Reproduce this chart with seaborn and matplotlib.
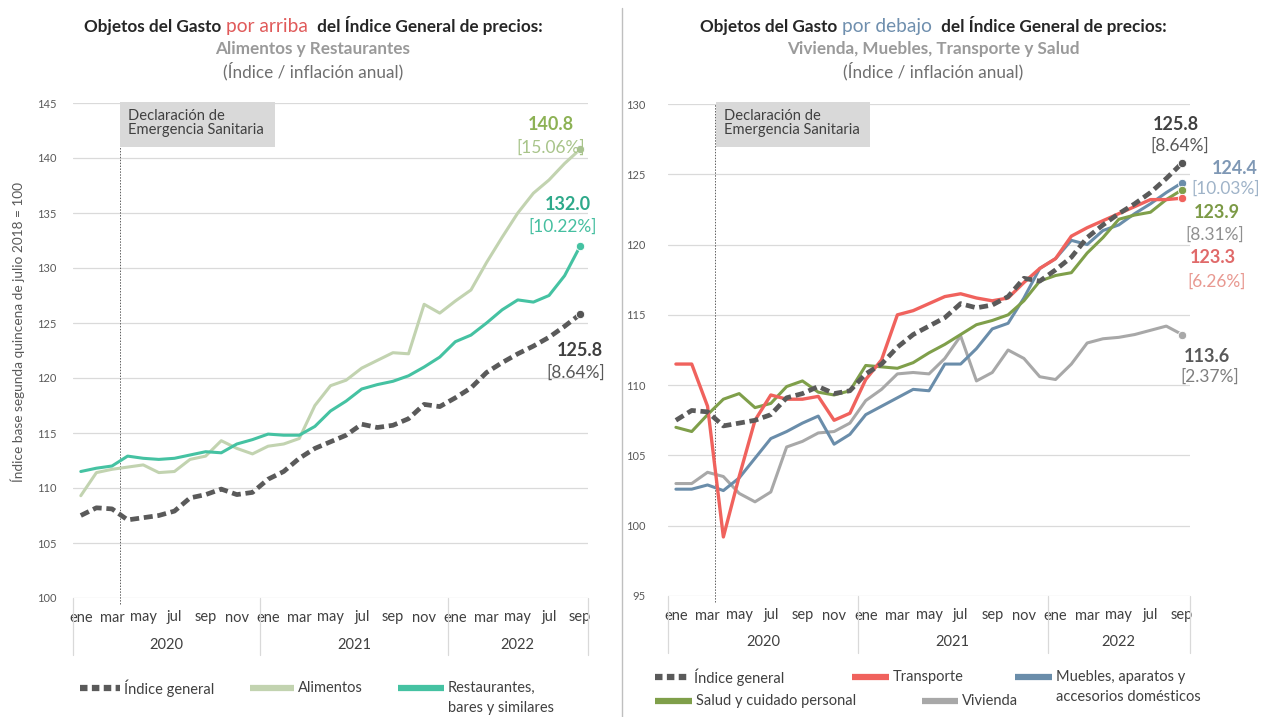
import numpy as np
import pandas as pd
import seaborn as sns
import matplotlib.pyplot as plt
import matplotlib.transforms as mtransforms
from matplotlib.lines import Line2D
from matplotlib.patches import Rectangle

# ---- data (monthly, ene 2020 .. sep 2022) ----
meses = ['ene', 'feb', 'mar', 'abr', 'may', 'jun', 'jul', 'ago', 'sep', 'oct', 'nov', 'dic']
anios = ['2020', '2021', '2022']

general = [107.5, 108.2, 108.1, 107.1, 107.3, 107.5, 107.9, 109.1, 109.4, 109.9, 109.4, 109.6,
           110.8, 111.5, 112.7, 113.6, 114.2, 114.8, 115.8, 115.5, 115.7, 116.3, 117.6, 117.4,
           118.2, 119.1, 120.5, 121.4, 122.2, 122.9, 123.7, 124.7, 125.8]
alimentos = [109.3, 111.4, 111.7, 111.9, 112.1, 111.4, 111.5, 112.6, 112.9, 114.3, 113.6, 113.1,
             113.8, 114.0, 114.5, 117.5, 119.3, 119.8, 120.9, 121.6, 122.3, 122.2, 126.7, 125.9,
             127.0, 128.0, 130.5, 132.8, 135.0, 136.8, 138.0, 139.5, 140.8]
restaurantes = [111.5, 111.8, 112.0, 112.9, 112.7, 112.6, 112.7, 113.0, 113.3, 113.2, 114.0, 114.4,
                114.9, 114.8, 114.8, 115.6, 117.0, 117.9, 119.0, 119.4, 119.7, 120.2, 121.0, 121.9,
                123.3, 123.9, 125.0, 126.2, 127.1, 126.9, 127.5, 129.3, 132.0]
transporte = [111.5, 111.5, 108.5, 99.2, 103.5, 107.5, 109.3, 109.0, 109.0, 109.2, 107.5, 108.0,
              110.4, 111.8, 115.0, 115.3, 115.8, 116.3, 116.5, 116.2, 116.0, 116.2, 117.3, 118.3,
              119.0, 120.6, 121.2, 121.7, 122.2, 122.7, 123.2, 123.2, 123.3]
muebles = [102.6, 102.6, 102.9, 102.5, 103.4, 104.8, 106.2, 106.7, 107.3, 107.8, 105.8, 106.5,
           107.9, 108.5, 109.1, 109.7, 109.6, 111.5, 111.5, 112.6, 114.0, 114.4, 116.2, 118.3,
           119.0, 120.3, 120.0, 121.0, 121.4, 122.2, 122.9, 123.7, 124.4]
salud = [107.0, 106.7, 107.9, 109.0, 109.4, 108.4, 108.7, 109.9, 110.3, 109.5, 109.3, 109.6,
         111.4, 111.3, 111.2, 111.6, 112.3, 112.9, 113.6, 114.3, 114.6, 115.0, 116.0, 117.4,
         117.8, 118.0, 119.4, 120.5, 121.8, 122.1, 122.3, 123.2, 123.9]
vivienda = [103.0, 103.0, 103.8, 103.5, 102.3, 101.7, 102.4, 105.6, 106.0, 106.6, 106.7, 107.3,
            108.9, 109.7, 110.8, 110.9, 110.8, 111.9, 113.5, 110.3, 110.9, 112.5, 111.9, 110.6,
            110.4, 111.5, 113.0, 113.3, 113.4, 113.6, 113.9, 114.2, 113.6]

df = pd.DataFrame({'t': np.arange(len(general)), 'general': general, 'alimentos': alimentos,
                   'restaurantes': restaurantes, 'transporte': transporte, 'muebles': muebles,
                   'salud': salud, 'vivienda': vivienda})

C_GEN = '#5a5a5a'
C_ALI = '#c2d3b0'
C_RES = '#45c2a2'
C_TRA = '#f0625d'
C_MUE = '#6a8daa'
C_SAL = '#7f9f4a'
C_VIV = '#a8a8a8'

sns.set_style('white')
plt.rcParams['font.family'] = ['Lato', 'DejaVu Sans']

W, H = 1277, 717
fig = plt.figure(figsize=(W / 100, H / 100), dpi=100)


def fx(x):
    return x / W


def fy(y):
    return 1 - y / H


axL = fig.add_axes([fx(73), fy(598), (588 - 73) / W, (598 - 103) / H])
axR = fig.add_axes([fx(668), fy(596), (1190 - 668) / W, (596 - 104) / H])


def style_axis(ax, lo, hi, pad_y, box_px):
    ax.set_xlim(-0.5, 32.5)
    ax.set_ylim(lo, hi)
    ax.set_yticks(np.arange(lo, hi + 1, 5))
    ax.grid(axis='y', color='#dadada', lw=0.9)
    ax.grid(axis='x', visible=False)
    sns.despine(ax=ax, left=True, bottom=True)
    ax.tick_params(axis='y', length=0, labelsize=8, labelcolor='#595959', pad=pad_y)
    ax.set_xticks(range(0, 33, 2))
    ax.set_xticklabels([meses[i % 12] for i in range(0, 33, 2)])
    ax.tick_params(axis='x', length=0, labelsize=10.5, labelcolor='#404040', pad=9)
    trans = mtransforms.blended_transform_factory(ax.transData, ax.transAxes)
    for b in [-0.5, 11.5, 23.5, 32.5]:
        ax.add_line(Line2D([b, b], [0, -0.115], transform=trans, color='#d9d9d9',
                           lw=0.9, clip_on=False))
    for k, yr in enumerate(anios):
        c = (k * 12 - 0.5 + min(k * 12 + 11.5, 32.5)) / 2
        ax.text(c, -0.094, yr, transform=trans, ha='center', va='center',
                fontsize=10.5, color='#404040')
    ax.axvline(2.5, ymin=-0.012, ymax=1, color='#606060', lw=0.7, ls=(0, (1.5, 1.5)),
               clip_on=False)
    x0, x1 = box_px
    fig.patches.append(Rectangle((fx(x0), fy(147)), (x1 - x0) / W, 45 / H,
                                 transform=fig.transFigure, facecolor='#d9d9d9',
                                 edgecolor='none', zorder=1))
    fig.text(fx(x0 + 8), fy(123), 'Declaración de\nEmergencia Sanitaria', ha='left',
             va='center', fontsize=10.6, color='#404040', linespacing=1.05, zorder=2)


def plot_line(ax, col, color, lw, z, dashed=False, dot=None):
    sns.lineplot(data=df, x='t', y=col, ax=ax, color=color, linewidth=lw, zorder=z)
    ln = ax.lines[-1]
    if dashed:
        ln.set_dashes((1.9, 1.0))
    ax.plot(df['t'].iloc[-1], df[col].iloc[-1], 'o', ms=6, color=dot or color,
            mec='white', mew=0.6, zorder=z + 1)


# ---- left panel ----
plot_line(axL, 'alimentos', C_ALI, 2.2, 3, dot='#a9c294')
plot_line(axL, 'restaurantes', C_RES, 2.2, 4)
plot_line(axL, 'general', C_GEN, 3.4, 5, dashed=True, dot='#555555')
style_axis(axL, 100, 145, 12, (120, 275))
axL.set_xlabel('')
axL.set_ylabel('')

# ---- right panel ----
plot_line(axR, 'vivienda', C_VIV, 2.2, 3)
plot_line(axR, 'muebles', C_MUE, 2.2, 4)
plot_line(axR, 'salud', C_SAL, 2.2, 5)
plot_line(axR, 'transporte', C_TRA, 2.4, 6)
plot_line(axR, 'general', C_GEN, 3.4, 7, dashed=True, dot='#555555')
style_axis(axR, 95, 130, 16, (716, 870))
axR.set_xlabel('')
axR.set_ylabel('')

fig.text(fx(18), fy(332), 'Índice base segunda quincena de julio 2018 = 100', rotation=90,
         ha='center', va='center', fontsize=9.8, color='#595959')

# divider
fig.add_artist(Line2D([fx(622), fx(622)], [fy(8), fy(717)], transform=fig.transFigure,
                      color='#bfbfbf', lw=1))

# ---- titles ----
renderer = fig.canvas.get_renderer()


def rich_line(xc, y, parts, gap=5):
    texts = [fig.text(0, fy(y), s, va='baseline', **kw) for s, kw in parts]
    widths = [t.get_window_extent(renderer).width for t in texts]
    x = xc - (sum(widths) + gap * (len(widths) - 1)) / 2
    for t, w in zip(texts, widths):
        t.set_x(fx(x))
        x += w + gap


bold = dict(fontsize=12.3, fontweight='bold', color='#262626')
rich_line(313, 32, [('Objetos del Gasto', bold),
                    ('por arriba', dict(fontsize=13.8, color='#e05a5a')),
                    (' del Índice General de precios:', bold)])
rich_line(933, 32, [('Objetos del Gasto', bold),
                    ('por debajo', dict(fontsize=13.8, color='#6f8fae')),
                    (' del Índice General de precios:', bold)])
for xc, sub in [(313, 'Alimentos y Restaurantes'), (933, 'Vivienda, Muebles, Transporte y Salud')]:
    fig.text(fx(xc), fy(49), sub, ha='center', va='center', fontsize=12.3, fontweight='bold',
             color='#9a9a9a')
    fig.text(fx(xc), fy(71), '(Índice / inflación anual)', ha='center', va='center',
             fontsize=12.3, color='#6f6f6f')

# ---- end labels ----
end_labels = [
    (551, 125, '140.8', '#8db255', 551, 148, '[15.06%]', '#a8c48a'),
    (568, 204, '132.0', '#2ea98a', 563, 227, '[10.22%]', '#45bfa0'),
    (580, 351, '125.8', '#404040', 576, 373, '[8.64%]', '#595959'),
    (1176, 124, '125.8', '#404040', 1180, 146, '[8.64%]', '#595959'),
    (1235, 168, '124.4', '#7f98b5', 1226, 189, '[10.03%]', '#9fb3c8'),
    (1217, 212, '123.9', '#7c9a46', 1215, 235, '[8.31%]', '#909090'),
    (1213, 258, '123.3', '#e06a6a', 1217, 282, '[6.26%]', '#e89890'),
    (1207, 357, '113.6', '#595959', 1210, 377, '[2.37%]', '#7f7f7f'),
]
for x1, y1, s1, c1, x2, y2, s2, c2 in end_labels:
    fig.text(fx(x1), fy(y1), s1, ha='center', va='center', fontsize=13, fontweight='bold',
             color=c1)
    fig.text(fx(x2), fy(y2), s2, ha='center', va='center', fontsize=12.5, color=c2)


# ---- legends ----
def legend_item(x0, x1, y, color, text, dashed=False, lw=4.5, second=None):
    ln = Line2D([fx(x0), fx(x1)], [fy(y), fy(y)], transform=fig.transFigure, color=color,
                lw=lw, solid_capstyle='butt')
    if dashed:
        ln.set_dashes((1.2, 0.7))
    fig.add_artist(ln)
    fig.text(fx(x1 + 4), fy(y), text, ha='left', va='center', fontsize=10.5, color='#404040')
    if second:
        fig.text(fx(x1 + 4), fy(y + 20), second, ha='left', va='center', fontsize=10.5,
                 color='#404040')


legend_item(80, 120, 688, C_GEN, 'Índice general', dashed=True)
legend_item(250, 294, 688, C_ALI, 'Alimentos')
legend_item(398, 444, 688, C_RES, 'Restaurantes,', second='bares y similares')

legend_item(655, 690, 677, C_GEN, 'Índice general', dashed=True)
legend_item(852, 889, 677, C_TRA, 'Transporte')
legend_item(1015, 1052, 677, C_MUE, 'Muebles, aparatos y', second='accesorios domésticos')
legend_item(655, 692, 701, C_SAL, 'Salud y cuidado personal')
legend_item(922, 958, 701, C_VIV, 'Vivienda')

fig.savefig('out.png', dpi=100)
